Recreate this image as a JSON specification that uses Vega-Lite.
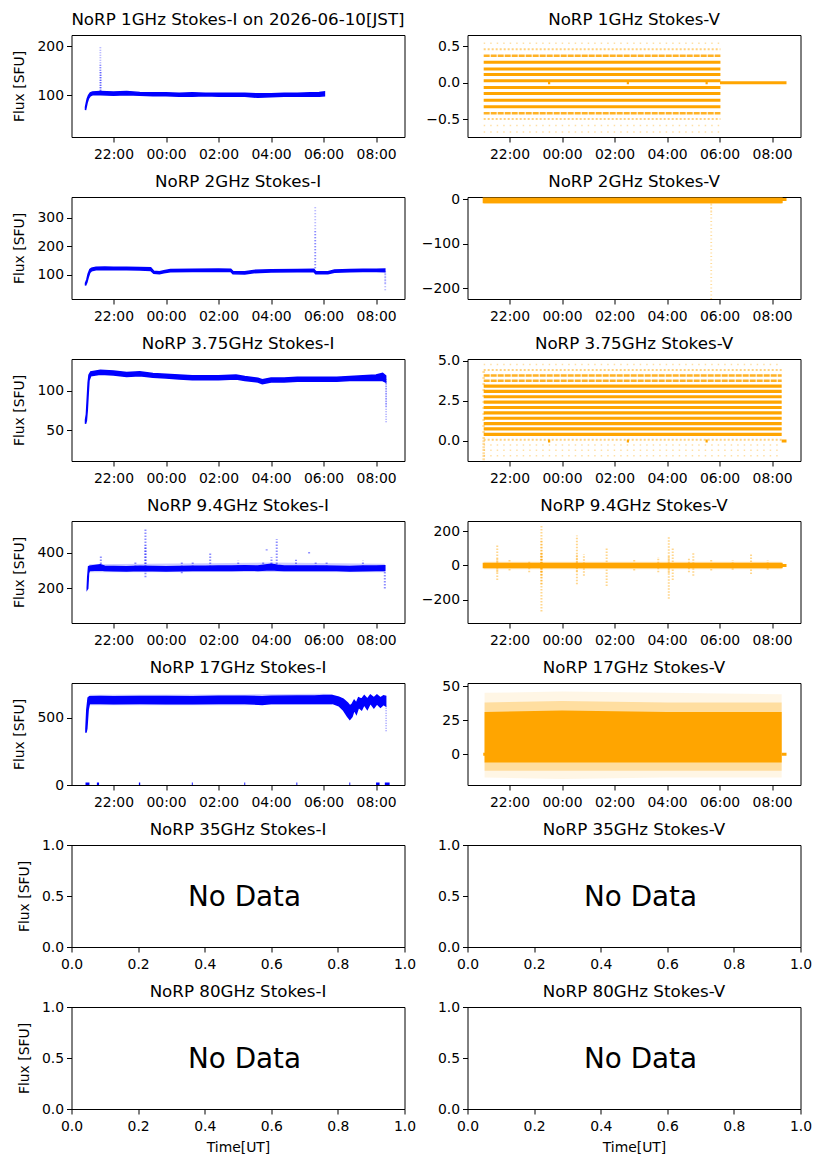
{
  "$schema": "https://vega.github.io/schema/vega-lite/v6.json",
  "background": "white",
  "autosize": {"type": "pad"},
  "padding": {"left": 11.5, "top": 11, "right": 5, "bottom": 5},
  "data": {
    "format": {"parse": {"t": "date", "t2": "date"}},
    "values": [
      {"p":"1I","k":"b","t":"2026-06-09T20:56Z","f":70,"f2":76},
      {"p":"1I","k":"b","t":"2026-06-09T20:58Z","f":78,"f2":85},
      {"p":"1I","k":"b","t":"2026-06-09T21:00Z","f":86,"f2":93},
      {"p":"1I","k":"b","t":"2026-06-09T21:03Z","f":94,"f2":100},
      {"p":"1I","k":"b","t":"2026-06-09T21:07Z","f":99,"f2":105},
      {"p":"1I","k":"b","t":"2026-06-09T21:12Z","f":101,"f2":107},
      {"p":"1I","k":"b","t":"2026-06-09T21:30Z","f":101,"f2":108},
      {"p":"1I","k":"b","t":"2026-06-09T22:00Z","f":100,"f2":107},
      {"p":"1I","k":"b","t":"2026-06-09T22:30Z","f":101,"f2":108},
      {"p":"1I","k":"b","t":"2026-06-09T23:00Z","f":100,"f2":106},
      {"p":"1I","k":"b","t":"2026-06-09T23:30Z","f":99,"f2":105},
      {"p":"1I","k":"b","t":"2026-06-10T00:00Z","f":99,"f2":105},
      {"p":"1I","k":"b","t":"2026-06-10T00:30Z","f":98,"f2":104},
      {"p":"1I","k":"b","t":"2026-06-10T01:00Z","f":98,"f2":105},
      {"p":"1I","k":"b","t":"2026-06-10T01:30Z","f":99,"f2":104},
      {"p":"1I","k":"b","t":"2026-06-10T02:00Z","f":98,"f2":104},
      {"p":"1I","k":"b","t":"2026-06-10T02:30Z","f":98,"f2":104},
      {"p":"1I","k":"b","t":"2026-06-10T03:00Z","f":98,"f2":104},
      {"p":"1I","k":"b","t":"2026-06-10T03:30Z","f":96,"f2":103},
      {"p":"1I","k":"b","t":"2026-06-10T04:00Z","f":97,"f2":103},
      {"p":"1I","k":"b","t":"2026-06-10T04:30Z","f":98,"f2":104},
      {"p":"1I","k":"b","t":"2026-06-10T05:00Z","f":98,"f2":104},
      {"p":"1I","k":"b","t":"2026-06-10T05:30Z","f":98,"f2":105},
      {"p":"1I","k":"b","t":"2026-06-10T05:50Z","f":98,"f2":106},
      {"p":"1I","k":"b","t":"2026-06-10T06:02Z","f":99,"f2":107},
      {"p":"1I","k":"s","t":"2026-06-09T21:30Z","f":104,"f2":201},
      {"p":"1I","k":"s","t":"2026-06-09T21:30Z","f":104,"f2":165},
      {"p":"1I","k":"s","t":"2026-06-09T21:31Z","f":104,"f2":150},

      {"p":"1V","k":"L","t":"2026-06-09T21:01Z","t2":"2026-06-10T06:02Z","f":0.277},
      {"p":"1V","k":"L","t":"2026-06-09T21:01Z","t2":"2026-06-10T06:02Z","f":0.188},
      {"p":"1V","k":"L","t":"2026-06-09T21:01Z","t2":"2026-06-10T06:02Z","f":0.112},
      {"p":"1V","k":"L","t":"2026-06-09T21:01Z","t2":"2026-06-10T06:02Z","f":0.027},
      {"p":"1V","k":"L","t":"2026-06-09T21:01Z","t2":"2026-06-10T06:02Z","f":-0.067},
      {"p":"1V","k":"L","t":"2026-06-09T21:01Z","t2":"2026-06-10T06:02Z","f":-0.148},
      {"p":"1V","k":"L","t":"2026-06-09T21:01Z","t2":"2026-06-10T06:02Z","f":-0.238},
      {"p":"1V","k":"L","t":"2026-06-09T21:01Z","t2":"2026-06-10T06:02Z","f":-0.328},
      {"p":"1V","k":"M","t":"2026-06-09T21:01Z","t2":"2026-06-10T06:02Z","f":0.367},
      {"p":"1V","k":"M","t":"2026-06-09T21:01Z","t2":"2026-06-10T06:02Z","f":-0.417},
      {"p":"1V","k":"S","t":"2026-06-09T21:01Z","t2":"2026-06-10T06:02Z","f":0.457},
      {"p":"1V","k":"S","t":"2026-06-09T21:01Z","t2":"2026-06-10T06:02Z","f":-0.494},
      {"p":"1V","k":"F","t":"2026-06-09T21:01Z","t2":"2026-06-10T06:02Z","f":0.538},
      {"p":"1V","k":"F","t":"2026-06-09T21:01Z","t2":"2026-06-10T06:02Z","f":-0.584},
      {"p":"1V","k":"F","t":"2026-06-09T21:01Z","t2":"2026-06-10T06:02Z","f":-0.673},
      {"p":"1V","k":"z","t":"2026-06-10T06:01Z","t2":"2026-06-10T08:33Z","f":0},
      {"p":"1V","k":"z","t":"2026-06-09T23:28Z","t2":"2026-06-09T23:33Z","f":0},
      {"p":"1V","k":"z","t":"2026-06-10T02:28Z","t2":"2026-06-10T02:33Z","f":0},
      {"p":"1V","k":"z","t":"2026-06-10T05:28Z","t2":"2026-06-10T05:33Z","f":0},

      {"p":"2I","k":"b","t":"2026-06-09T20:56Z","f":62,"f2":70},
      {"p":"2I","k":"b","t":"2026-06-09T20:59Z","f":72,"f2":82},
      {"p":"2I","k":"b","t":"2026-06-09T21:02Z","f":90,"f2":102},
      {"p":"2I","k":"b","t":"2026-06-09T21:06Z","f":108,"f2":118},
      {"p":"2I","k":"b","t":"2026-06-09T21:10Z","f":114,"f2":123},
      {"p":"2I","k":"b","t":"2026-06-09T21:20Z","f":117,"f2":126},
      {"p":"2I","k":"b","t":"2026-06-09T21:40Z","f":118,"f2":127},
      {"p":"2I","k":"b","t":"2026-06-09T22:00Z","f":117,"f2":126},
      {"p":"2I","k":"b","t":"2026-06-09T22:30Z","f":117,"f2":126},
      {"p":"2I","k":"b","t":"2026-06-09T23:00Z","f":116,"f2":125},
      {"p":"2I","k":"b","t":"2026-06-09T23:25Z","f":115,"f2":124},
      {"p":"2I","k":"b","t":"2026-06-09T23:32Z","f":105,"f2":112},
      {"p":"2I","k":"b","t":"2026-06-09T23:45Z","f":103,"f2":110},
      {"p":"2I","k":"b","t":"2026-06-09T23:55Z","f":107,"f2":114},
      {"p":"2I","k":"b","t":"2026-06-10T00:10Z","f":110,"f2":118},
      {"p":"2I","k":"b","t":"2026-06-10T01:00Z","f":111,"f2":119},
      {"p":"2I","k":"b","t":"2026-06-10T02:00Z","f":112,"f2":120},
      {"p":"2I","k":"b","t":"2026-06-10T02:28Z","f":111,"f2":119},
      {"p":"2I","k":"b","t":"2026-06-10T02:33Z","f":103,"f2":111},
      {"p":"2I","k":"b","t":"2026-06-10T03:00Z","f":102,"f2":110},
      {"p":"2I","k":"b","t":"2026-06-10T03:20Z","f":107,"f2":115},
      {"p":"2I","k":"b","t":"2026-06-10T04:00Z","f":109,"f2":117},
      {"p":"2I","k":"b","t":"2026-06-10T05:00Z","f":110,"f2":118},
      {"p":"2I","k":"b","t":"2026-06-10T05:38Z","f":110,"f2":119},
      {"p":"2I","k":"b","t":"2026-06-10T05:42Z","f":103,"f2":110},
      {"p":"2I","k":"b","t":"2026-06-10T06:10Z","f":103,"f2":110},
      {"p":"2I","k":"b","t":"2026-06-10T06:25Z","f":108,"f2":116},
      {"p":"2I","k":"b","t":"2026-06-10T07:00Z","f":110,"f2":118},
      {"p":"2I","k":"b","t":"2026-06-10T07:30Z","f":111,"f2":119},
      {"p":"2I","k":"b","t":"2026-06-10T08:00Z","f":111,"f2":119},
      {"p":"2I","k":"b","t":"2026-06-10T08:20Z","f":110,"f2":120},
      {"p":"2I","k":"s","t":"2026-06-10T05:41Z","f":112,"f2":340},
      {"p":"2I","k":"s","t":"2026-06-10T05:41Z","f":112,"f2":260},
      {"p":"2I","k":"s","t":"2026-06-10T08:21Z","f":45,"f2":118},
      {"p":"2I","k":"s","t":"2026-06-10T08:21Z","f":70,"f2":112},

      {"p":"2V","k":"b","t":"2026-06-09T21:01Z","f":-7,"f2":1},
      {"p":"2V","k":"b","t":"2026-06-10T00:00Z","f":-7,"f2":1},
      {"p":"2V","k":"b","t":"2026-06-10T04:00Z","f":-7,"f2":1},
      {"p":"2V","k":"b","t":"2026-06-10T08:22Z","f":-7,"f2":1},
      {"p":"2V","k":"r","t":"2026-06-09T21:01Z","f":-11,"f2":-7},
      {"p":"2V","k":"r","t":"2026-06-10T08:22Z","f":-11,"f2":-7},
      {"p":"2V","k":"z","t":"2026-06-10T08:22Z","t2":"2026-06-10T08:33Z","f":-1},
      {"p":"2V","k":"s","t":"2026-06-10T05:41Z","f":-224,"f2":-7},
      {"p":"2V","k":"s","t":"2026-06-10T05:41Z","f":-30,"f2":-7},

      {"p":"3I","k":"b","t":"2026-06-09T20:56Z","f":58,"f2":63},
      {"p":"3I","k":"b","t":"2026-06-09T20:58Z","f":62,"f2":70},
      {"p":"3I","k":"b","t":"2026-06-09T21:00Z","f":75,"f2":90},
      {"p":"3I","k":"b","t":"2026-06-09T21:02Z","f":95,"f2":110},
      {"p":"3I","k":"b","t":"2026-06-09T21:04Z","f":113,"f2":120},
      {"p":"3I","k":"b","t":"2026-06-09T21:08Z","f":119,"f2":124},
      {"p":"3I","k":"b","t":"2026-06-09T21:30Z","f":121,"f2":126},
      {"p":"3I","k":"b","t":"2026-06-09T22:00Z","f":120,"f2":125},
      {"p":"3I","k":"b","t":"2026-06-09T22:30Z","f":118,"f2":123},
      {"p":"3I","k":"b","t":"2026-06-09T23:00Z","f":119,"f2":124},
      {"p":"3I","k":"b","t":"2026-06-09T23:30Z","f":117,"f2":122},
      {"p":"3I","k":"b","t":"2026-06-10T00:00Z","f":116,"f2":121},
      {"p":"3I","k":"b","t":"2026-06-10T00:30Z","f":115,"f2":120},
      {"p":"3I","k":"b","t":"2026-06-10T01:00Z","f":114,"f2":119},
      {"p":"3I","k":"b","t":"2026-06-10T01:30Z","f":114,"f2":119},
      {"p":"3I","k":"b","t":"2026-06-10T02:00Z","f":114,"f2":119},
      {"p":"3I","k":"b","t":"2026-06-10T02:40Z","f":115,"f2":120},
      {"p":"3I","k":"b","t":"2026-06-10T03:00Z","f":113,"f2":118},
      {"p":"3I","k":"b","t":"2026-06-10T03:30Z","f":111,"f2":116},
      {"p":"3I","k":"b","t":"2026-06-10T03:40Z","f":109,"f2":114},
      {"p":"3I","k":"b","t":"2026-06-10T04:00Z","f":111,"f2":116},
      {"p":"3I","k":"b","t":"2026-06-10T04:30Z","f":111,"f2":116},
      {"p":"3I","k":"b","t":"2026-06-10T05:00Z","f":112,"f2":117},
      {"p":"3I","k":"b","t":"2026-06-10T05:30Z","f":112,"f2":117},
      {"p":"3I","k":"b","t":"2026-06-10T06:00Z","f":112,"f2":117},
      {"p":"3I","k":"b","t":"2026-06-10T06:30Z","f":112,"f2":117},
      {"p":"3I","k":"b","t":"2026-06-10T07:00Z","f":113,"f2":118},
      {"p":"3I","k":"b","t":"2026-06-10T07:30Z","f":113,"f2":119},
      {"p":"3I","k":"b","t":"2026-06-10T08:00Z","f":113,"f2":120},
      {"p":"3I","k":"b","t":"2026-06-10T08:15Z","f":113,"f2":122},
      {"p":"3I","k":"b","t":"2026-06-10T08:22Z","f":111,"f2":119},
      {"p":"3I","k":"s","t":"2026-06-10T08:23Z","f":60,"f2":115},
      {"p":"3I","k":"s","t":"2026-06-10T08:23Z","f":80,"f2":112},

      {"p":"3V","k":"L","t":"2026-06-09T21:01Z","t2":"2026-06-10T08:22Z","f":0.41},
      {"p":"3V","k":"L","t":"2026-06-09T21:01Z","t2":"2026-06-10T08:22Z","f":0.75},
      {"p":"3V","k":"L","t":"2026-06-09T21:01Z","t2":"2026-06-10T08:22Z","f":1.08},
      {"p":"3V","k":"L","t":"2026-06-09T21:01Z","t2":"2026-06-10T08:22Z","f":1.41},
      {"p":"3V","k":"L","t":"2026-06-09T21:01Z","t2":"2026-06-10T08:22Z","f":1.75},
      {"p":"3V","k":"L","t":"2026-06-09T21:01Z","t2":"2026-06-10T08:22Z","f":2.08},
      {"p":"3V","k":"L","t":"2026-06-09T21:01Z","t2":"2026-06-10T08:22Z","f":2.41},
      {"p":"3V","k":"L","t":"2026-06-09T21:01Z","t2":"2026-06-10T08:22Z","f":2.75},
      {"p":"3V","k":"L","t":"2026-06-09T21:01Z","t2":"2026-06-10T08:22Z","f":3.08},
      {"p":"3V","k":"L","t":"2026-06-09T21:01Z","t2":"2026-06-10T08:22Z","f":3.41},
      {"p":"3V","k":"M","t":"2026-06-09T21:01Z","t2":"2026-06-10T08:22Z","f":3.75},
      {"p":"3V","k":"M","t":"2026-06-09T21:01Z","t2":"2026-06-10T08:22Z","f":4.08},
      {"p":"3V","k":"S","t":"2026-06-09T21:01Z","t2":"2026-06-10T08:22Z","f":0.08},
      {"p":"3V","k":"S","t":"2026-06-09T21:01Z","t2":"2026-06-10T08:22Z","f":4.41},
      {"p":"3V","k":"F","t":"2026-06-09T21:01Z","t2":"2026-06-10T08:22Z","f":4.75},
      {"p":"3V","k":"F","t":"2026-06-09T21:01Z","t2":"2026-06-10T08:22Z","f":-0.25},
      {"p":"3V","k":"F","t":"2026-06-09T21:01Z","t2":"2026-06-10T08:22Z","f":-0.58},
      {"p":"3V","k":"F","t":"2026-06-09T21:01Z","t2":"2026-06-10T08:22Z","f":-0.92},
      {"p":"3V","k":"z","t":"2026-06-09T23:28Z","t2":"2026-06-09T23:33Z","f":0},
      {"p":"3V","k":"z","t":"2026-06-10T02:28Z","t2":"2026-06-10T02:33Z","f":0},
      {"p":"3V","k":"z","t":"2026-06-10T05:28Z","t2":"2026-06-10T05:33Z","f":0},
      {"p":"3V","k":"z","t":"2026-06-10T08:22Z","t2":"2026-06-10T08:33Z","f":0},
      {"p":"3V","k":"s","t":"2026-06-09T21:01Z","f":-1.2,"f2":0.1},
      {"p":"3V","k":"s","t":"2026-06-09T21:01Z","f":-1.0,"f2":4.5},

      {"p":"4I","k":"b","t":"2026-06-09T21:00Z","f":196,"f2":204},
      {"p":"4I","k":"b","t":"2026-06-09T21:01Z","f":200,"f2":260},
      {"p":"4I","k":"b","t":"2026-06-09T21:03Z","f":285,"f2":322},
      {"p":"4I","k":"b","t":"2026-06-09T21:05Z","f":300,"f2":324},
      {"p":"4I","k":"b","t":"2026-06-09T21:30Z","f":303,"f2":332},
      {"p":"4I","k":"b","t":"2026-06-09T21:40Z","f":300,"f2":324},
      {"p":"4I","k":"b","t":"2026-06-09T22:00Z","f":299,"f2":323},
      {"p":"4I","k":"b","t":"2026-06-09T22:30Z","f":298,"f2":322},
      {"p":"4I","k":"b","t":"2026-06-09T23:00Z","f":300,"f2":324},
      {"p":"4I","k":"b","t":"2026-06-09T23:30Z","f":299,"f2":323},
      {"p":"4I","k":"b","t":"2026-06-10T00:00Z","f":298,"f2":322},
      {"p":"4I","k":"b","t":"2026-06-10T00:30Z","f":299,"f2":323},
      {"p":"4I","k":"b","t":"2026-06-10T01:00Z","f":300,"f2":324},
      {"p":"4I","k":"b","t":"2026-06-10T01:30Z","f":300,"f2":324},
      {"p":"4I","k":"b","t":"2026-06-10T02:00Z","f":300,"f2":325},
      {"p":"4I","k":"b","t":"2026-06-10T02:30Z","f":301,"f2":326},
      {"p":"4I","k":"b","t":"2026-06-10T03:00Z","f":302,"f2":327},
      {"p":"4I","k":"b","t":"2026-06-10T03:30Z","f":301,"f2":326},
      {"p":"4I","k":"b","t":"2026-06-10T04:00Z","f":304,"f2":336},
      {"p":"4I","k":"b","t":"2026-06-10T04:15Z","f":302,"f2":330},
      {"p":"4I","k":"b","t":"2026-06-10T04:30Z","f":301,"f2":326},
      {"p":"4I","k":"b","t":"2026-06-10T05:00Z","f":301,"f2":326},
      {"p":"4I","k":"b","t":"2026-06-10T05:30Z","f":300,"f2":325},
      {"p":"4I","k":"b","t":"2026-06-10T06:00Z","f":301,"f2":326},
      {"p":"4I","k":"b","t":"2026-06-10T06:30Z","f":300,"f2":324},
      {"p":"4I","k":"b","t":"2026-06-10T07:00Z","f":298,"f2":323},
      {"p":"4I","k":"b","t":"2026-06-10T07:30Z","f":299,"f2":325},
      {"p":"4I","k":"b","t":"2026-06-10T08:00Z","f":300,"f2":326},
      {"p":"4I","k":"b","t":"2026-06-10T08:20Z","f":300,"f2":327},
      {"p":"4I","k":"r","t":"2026-06-09T21:05Z","f":290,"f2":336},
      {"p":"4I","k":"r","t":"2026-06-10T04:00Z","f":292,"f2":345},
      {"p":"4I","k":"r","t":"2026-06-10T08:20Z","f":290,"f2":338},
      {"p":"4I","k":"s","t":"2026-06-09T21:31Z","f":320,"f2":385},
      {"p":"4I","k":"s","t":"2026-06-09T22:50Z","f":320,"f2":350},
      {"p":"4I","k":"s","t":"2026-06-09T23:13Z","f":320,"f2":530},
      {"p":"4I","k":"s","t":"2026-06-09T23:13Z","f":320,"f2":440},
      {"p":"4I","k":"s","t":"2026-06-09T23:13Z","f":262,"f2":320},
      {"p":"4I","k":"s","t":"2026-06-10T00:36Z","f":320,"f2":345},
      {"p":"4I","k":"s","t":"2026-06-10T00:36Z","f":285,"f2":300},
      {"p":"4I","k":"s","t":"2026-06-10T01:01Z","f":320,"f2":350},
      {"p":"4I","k":"s","t":"2026-06-10T01:41Z","f":320,"f2":400},
      {"p":"4I","k":"s","t":"2026-06-10T02:45Z","f":320,"f2":355},
      {"p":"4I","k":"s","t":"2026-06-10T03:42Z","f":320,"f2":350},
      {"p":"4I","k":"s","t":"2026-06-10T03:50Z","f":412,"f2":420},
      {"p":"4I","k":"s","t":"2026-06-10T04:01Z","f":320,"f2":375},
      {"p":"4I","k":"s","t":"2026-06-10T04:13Z","f":320,"f2":475},
      {"p":"4I","k":"s","t":"2026-06-10T04:57Z","f":320,"f2":360},
      {"p":"4I","k":"s","t":"2026-06-10T05:27Z","f":396,"f2":404},
      {"p":"4I","k":"s","t":"2026-06-10T05:42Z","f":320,"f2":345},
      {"p":"4I","k":"s","t":"2026-06-10T06:07Z","f":320,"f2":350},
      {"p":"4I","k":"s","t":"2026-06-10T07:30Z","f":320,"f2":355},
      {"p":"4I","k":"s","t":"2026-06-10T08:20Z","f":200,"f2":300},

      {"p":"4V","k":"b","t":"2026-06-09T21:01Z","f":-10,"f2":10},
      {"p":"4V","k":"b","t":"2026-06-10T00:00Z","f":-10,"f2":10},
      {"p":"4V","k":"b","t":"2026-06-10T04:00Z","f":-10,"f2":10},
      {"p":"4V","k":"b","t":"2026-06-10T08:22Z","f":-10,"f2":10},
      {"p":"4V","k":"r","t":"2026-06-09T21:01Z","f":-22,"f2":22},
      {"p":"4V","k":"r","t":"2026-06-10T08:22Z","f":-22,"f2":22},
      {"p":"4V","k":"z","t":"2026-06-10T08:22Z","t2":"2026-06-10T08:33Z","f":0},
      {"p":"4V","k":"s","t":"2026-06-09T21:32Z","f":-85,"f2":125},
      {"p":"4V","k":"s","t":"2026-06-09T21:32Z","f":-40,"f2":40},
      {"p":"4V","k":"s","t":"2026-06-09T22:00Z","f":-30,"f2":35},
      {"p":"4V","k":"s","t":"2026-06-09T22:45Z","f":-40,"f2":30},
      {"p":"4V","k":"s","t":"2026-06-09T23:13Z","f":-270,"f2":240},
      {"p":"4V","k":"s","t":"2026-06-09T23:13Z","f":-110,"f2":150},
      {"p":"4V","k":"s","t":"2026-06-09T23:13Z","f":-60,"f2":80},
      {"p":"4V","k":"s","t":"2026-06-09T23:13Z","f":-40,"f2":70},
      {"p":"4V","k":"s","t":"2026-06-10T00:34Z","f":-110,"f2":175},
      {"p":"4V","k":"s","t":"2026-06-10T00:34Z","f":-35,"f2":60},
      {"p":"4V","k":"s","t":"2026-06-10T00:50Z","f":-60,"f2":65},
      {"p":"4V","k":"s","t":"2026-06-10T01:42Z","f":-120,"f2":105},
      {"p":"4V","k":"s","t":"2026-06-10T02:45Z","f":-30,"f2":40},
      {"p":"4V","k":"s","t":"2026-06-10T03:40Z","f":-40,"f2":50},
      {"p":"4V","k":"s","t":"2026-06-10T04:04Z","f":-195,"f2":170},
      {"p":"4V","k":"s","t":"2026-06-10T04:04Z","f":-45,"f2":55},
      {"p":"4V","k":"s","t":"2026-06-10T04:13Z","f":-85,"f2":100},
      {"p":"4V","k":"s","t":"2026-06-10T04:50Z","f":-40,"f2":45},
      {"p":"4V","k":"s","t":"2026-06-10T05:00Z","f":-60,"f2":75},
      {"p":"4V","k":"s","t":"2026-06-10T05:41Z","f":-30,"f2":40},
      {"p":"4V","k":"s","t":"2026-06-10T06:30Z","f":-25,"f2":30},
      {"p":"4V","k":"s","t":"2026-06-10T07:12Z","f":-50,"f2":70},
      {"p":"4V","k":"s","t":"2026-06-10T07:50Z","f":-25,"f2":30},

      {"p":"5I","k":"b","t":"2026-06-09T20:57Z","f":390,"f2":420},
      {"p":"5I","k":"b","t":"2026-06-09T20:59Z","f":420,"f2":560},
      {"p":"5I","k":"b","t":"2026-06-09T21:02Z","f":560,"f2":650},
      {"p":"5I","k":"b","t":"2026-06-09T21:05Z","f":608,"f2":658},
      {"p":"5I","k":"b","t":"2026-06-09T21:30Z","f":608,"f2":660},
      {"p":"5I","k":"b","t":"2026-06-09T22:00Z","f":606,"f2":658},
      {"p":"5I","k":"b","t":"2026-06-09T23:00Z","f":607,"f2":660},
      {"p":"5I","k":"b","t":"2026-06-10T00:00Z","f":606,"f2":659},
      {"p":"5I","k":"b","t":"2026-06-10T01:00Z","f":605,"f2":658},
      {"p":"5I","k":"b","t":"2026-06-10T02:00Z","f":607,"f2":661},
      {"p":"5I","k":"b","t":"2026-06-10T03:00Z","f":608,"f2":661},
      {"p":"5I","k":"b","t":"2026-06-10T03:40Z","f":600,"f2":658},
      {"p":"5I","k":"b","t":"2026-06-10T04:00Z","f":607,"f2":662},
      {"p":"5I","k":"b","t":"2026-06-10T05:00Z","f":609,"f2":664},
      {"p":"5I","k":"b","t":"2026-06-10T05:40Z","f":607,"f2":664},
      {"p":"5I","k":"b","t":"2026-06-10T06:00Z","f":610,"f2":666},
      {"p":"5I","k":"b","t":"2026-06-10T06:20Z","f":608,"f2":666},
      {"p":"5I","k":"b","t":"2026-06-10T06:35Z","f":590,"f2":655},
      {"p":"5I","k":"b","t":"2026-06-10T06:45Z","f":560,"f2":640},
      {"p":"5I","k":"b","t":"2026-06-10T06:55Z","f":510,"f2":610},
      {"p":"5I","k":"b","t":"2026-06-10T07:00Z","f":490,"f2":590},
      {"p":"5I","k":"b","t":"2026-06-10T07:05Z","f":510,"f2":600},
      {"p":"5I","k":"b","t":"2026-06-10T07:10Z","f":560,"f2":630},
      {"p":"5I","k":"b","t":"2026-06-10T07:15Z","f":530,"f2":610},
      {"p":"5I","k":"b","t":"2026-06-10T07:20Z","f":580,"f2":650},
      {"p":"5I","k":"b","t":"2026-06-10T07:27Z","f":560,"f2":640},
      {"p":"5I","k":"b","t":"2026-06-10T07:33Z","f":600,"f2":665},
      {"p":"5I","k":"b","t":"2026-06-10T07:40Z","f":565,"f2":640},
      {"p":"5I","k":"b","t":"2026-06-10T07:47Z","f":610,"f2":670},
      {"p":"5I","k":"b","t":"2026-06-10T07:55Z","f":575,"f2":650},
      {"p":"5I","k":"b","t":"2026-06-10T08:02Z","f":605,"f2":670},
      {"p":"5I","k":"b","t":"2026-06-10T08:10Z","f":580,"f2":650},
      {"p":"5I","k":"b","t":"2026-06-10T08:17Z","f":600,"f2":665},
      {"p":"5I","k":"b","t":"2026-06-10T08:22Z","f":590,"f2":660},
      {"p":"5I","k":"r","t":"2026-06-09T21:05Z","f":595,"f2":672},
      {"p":"5I","k":"r","t":"2026-06-10T03:00Z","f":595,"f2":675},
      {"p":"5I","k":"r","t":"2026-06-10T06:00Z","f":598,"f2":680},
      {"p":"5I","k":"r","t":"2026-06-10T06:20Z","f":598,"f2":678},
      {"p":"5I","k":"s","t":"2026-06-10T08:23Z","f":400,"f2":590},
      {"p":"5I","k":"z","t":"2026-06-09T20:56Z","t2":"2026-06-09T21:05Z","f":0},
      {"p":"5I","k":"z","t":"2026-06-09T21:22Z","t2":"2026-06-09T21:27Z","f":0},
      {"p":"5I","k":"z","t":"2026-06-09T22:58Z","t2":"2026-06-09T23:01Z","f":0},
      {"p":"5I","k":"z","t":"2026-06-10T00:59Z","t2":"2026-06-10T01:01Z","f":0},
      {"p":"5I","k":"z","t":"2026-06-10T02:59Z","t2":"2026-06-10T03:01Z","f":0},
      {"p":"5I","k":"z","t":"2026-06-10T04:58Z","t2":"2026-06-10T05:00Z","f":0},
      {"p":"5I","k":"z","t":"2026-06-10T06:59Z","t2":"2026-06-10T07:01Z","f":0},
      {"p":"5I","k":"z","t":"2026-06-10T08:00Z","t2":"2026-06-10T08:08Z","f":0},
      {"p":"5I","k":"z","t":"2026-06-10T08:20Z","t2":"2026-06-10T08:31Z","f":0},

      {"p":"5V","k":"h","t":"2026-06-09T21:03Z","f":-17,"f2":45},
      {"p":"5V","k":"h","t":"2026-06-10T00:00Z","f":-18,"f2":46},
      {"p":"5V","k":"h","t":"2026-06-10T04:00Z","f":-17,"f2":45},
      {"p":"5V","k":"h","t":"2026-06-10T08:22Z","f":-17,"f2":44},
      {"p":"5V","k":"r","t":"2026-06-09T21:03Z","f":-12,"f2":38},
      {"p":"5V","k":"r","t":"2026-06-10T00:00Z","f":-12,"f2":39},
      {"p":"5V","k":"r","t":"2026-06-10T04:00Z","f":-12,"f2":38},
      {"p":"5V","k":"r","t":"2026-06-10T08:22Z","f":-12,"f2":38},
      {"p":"5V","k":"b","t":"2026-06-09T21:03Z","f":-6,"f2":31},
      {"p":"5V","k":"b","t":"2026-06-10T00:00Z","f":-6,"f2":32},
      {"p":"5V","k":"b","t":"2026-06-10T04:00Z","f":-6,"f2":31},
      {"p":"5V","k":"b","t":"2026-06-10T08:22Z","f":-6,"f2":31},
      {"p":"5V","k":"z","t":"2026-06-09T21:00Z","t2":"2026-06-09T21:04Z","f":0},
      {"p":"5V","k":"z","t":"2026-06-10T08:22Z","t2":"2026-06-10T08:33Z","f":0},

      {"p":"35I","note":"No Data"},
      {"p":"35V","note":"No Data"},
      {"p":"80I","note":"No Data"},
      {"p":"80V","note":"No Data"}
    ]
  },
  "columns": 2,
  "bounds": "flush",
  "spacing": {"row": 60, "column": 63},
  "concat": [
    {
      "title": "NoRP 1GHz Stokes-I on 2026-06-10[JST]",
      "width": 333, "height": 102,
      "encoding": {
        "x": {"field": "t", "type": "temporal", "title": null,
          "scale": {"type": "utc", "nice": false, "domain": [{"year": 2026, "month": 6, "date": 9, "hours": 20, "minutes": 24, "utc": true}, {"year": 2026, "month": 6, "date": 10, "hours": 9, "minutes": 5, "utc": true}]},
          "axis": {"labelExpr": "utcFormat(datum.value, '%H:%M')", "values": [{"year": 2026, "month": 6, "date": 9, "hours": 22, "utc": true}, {"year": 2026, "month": 6, "date": 10, "hours": 0, "utc": true}, {"year": 2026, "month": 6, "date": 10, "hours": 2, "utc": true}, {"year": 2026, "month": 6, "date": 10, "hours": 4, "utc": true}, {"year": 2026, "month": 6, "date": 10, "hours": 6, "utc": true}, {"year": 2026, "month": 6, "date": 10, "hours": 8, "utc": true}]}},
        "y": {"field": "f", "type": "quantitative", "title": "Flux [SFU]", "scale": {"domain": [15, 223], "nice": false, "zero": false}, "axis": {"values": [100, 200]}}
      },
      "layer": [
        {"transform": [{"filter": "datum.p == '1I' && datum.k == 'b'"}], "mark": {"type": "area", "color": "#0000ff", "stroke": "#0000ff", "strokeWidth": 1.5, "clip": true}, "encoding": {"y2": {"field": "f2"}}},
        {"transform": [{"filter": "datum.p == '1I' && datum.k == 's'"}], "mark": {"type": "rule", "color": "#0000ff", "opacity": 0.35, "strokeWidth": 1.8, "strokeDash": [1, 1.5], "clip": true}, "encoding": {"y2": {"field": "f2"}}}
      ]
    },
    {
      "title": "NoRP 1GHz Stokes-V",
      "width": 333, "height": 102,
      "encoding": {
        "x": {"field": "t", "type": "temporal", "title": null,
          "scale": {"type": "utc", "nice": false, "domain": [{"year": 2026, "month": 6, "date": 9, "hours": 20, "minutes": 24, "utc": true}, {"year": 2026, "month": 6, "date": 10, "hours": 9, "minutes": 5, "utc": true}]},
          "axis": {"labelExpr": "utcFormat(datum.value, '%H:%M')", "values": [{"year": 2026, "month": 6, "date": 9, "hours": 22, "utc": true}, {"year": 2026, "month": 6, "date": 10, "hours": 0, "utc": true}, {"year": 2026, "month": 6, "date": 10, "hours": 2, "utc": true}, {"year": 2026, "month": 6, "date": 10, "hours": 4, "utc": true}, {"year": 2026, "month": 6, "date": 10, "hours": 6, "utc": true}, {"year": 2026, "month": 6, "date": 10, "hours": 8, "utc": true}]}},
        "y": {"field": "f", "type": "quantitative", "title": null, "scale": {"domain": [-0.74, 0.65], "nice": false, "zero": false}, "axis": {"values": [-0.5, 0, 0.5], "format": ".1f"}}
      },
      "layer": [
        {"transform": [{"filter": "datum.p == '1V' && datum.k == 'F'"}], "mark": {"type": "rule", "color": "#ffa500", "opacity": 0.35, "strokeWidth": 1.5, "strokeDash": [1.5, 5], "clip": true}, "encoding": {"x2": {"field": "t2"}}},
        {"transform": [{"filter": "datum.p == '1V' && datum.k == 'S'"}], "mark": {"type": "rule", "color": "#ffa500", "opacity": 0.5, "strokeWidth": 2, "strokeDash": [2, 2], "clip": true}, "encoding": {"x2": {"field": "t2"}}},
        {"transform": [{"filter": "datum.p == '1V' && datum.k == 'M'"}], "mark": {"type": "rule", "color": "#ffa500", "opacity": 0.85, "strokeWidth": 2.5, "strokeDash": [6, 1], "clip": true}, "encoding": {"x2": {"field": "t2"}}},
        {"transform": [{"filter": "datum.p == '1V' && datum.k == 'L'"}], "mark": {"type": "rule", "color": "#ffa500", "strokeWidth": 3, "clip": true}, "encoding": {"x2": {"field": "t2"}}},
        {"transform": [{"filter": "datum.p == '1V' && datum.k == 'z'"}], "mark": {"type": "rule", "color": "#ffa500", "strokeWidth": 3, "clip": true}, "encoding": {"x2": {"field": "t2"}}}
      ]
    },
    {
      "title": "NoRP 2GHz Stokes-I",
      "width": 333, "height": 102,
      "encoding": {
        "x": {"field": "t", "type": "temporal", "title": null,
          "scale": {"type": "utc", "nice": false, "domain": [{"year": 2026, "month": 6, "date": 9, "hours": 20, "minutes": 24, "utc": true}, {"year": 2026, "month": 6, "date": 10, "hours": 9, "minutes": 5, "utc": true}]},
          "axis": {"labelExpr": "utcFormat(datum.value, '%H:%M')", "values": [{"year": 2026, "month": 6, "date": 9, "hours": 22, "utc": true}, {"year": 2026, "month": 6, "date": 10, "hours": 0, "utc": true}, {"year": 2026, "month": 6, "date": 10, "hours": 2, "utc": true}, {"year": 2026, "month": 6, "date": 10, "hours": 4, "utc": true}, {"year": 2026, "month": 6, "date": 10, "hours": 6, "utc": true}, {"year": 2026, "month": 6, "date": 10, "hours": 8, "utc": true}]}},
        "y": {"field": "f", "type": "quantitative", "title": "Flux [SFU]", "scale": {"domain": [14, 374], "nice": false, "zero": false}, "axis": {"values": [100, 200, 300]}}
      },
      "layer": [
        {"transform": [{"filter": "datum.p == '2I' && datum.k == 'b'"}], "mark": {"type": "area", "color": "#0000ff", "stroke": "#0000ff", "strokeWidth": 1.5, "clip": true}, "encoding": {"y2": {"field": "f2"}}},
        {"transform": [{"filter": "datum.p == '2I' && datum.k == 's'"}], "mark": {"type": "rule", "color": "#0000ff", "opacity": 0.35, "strokeWidth": 1.8, "strokeDash": [1, 2], "clip": true}, "encoding": {"y2": {"field": "f2"}}}
      ]
    },
    {
      "title": {"text": "NoRP 2GHz Stokes-V", "dy": 5},
      "width": 333, "height": 102,
      "encoding": {
        "x": {"field": "t", "type": "temporal", "title": null,
          "scale": {"type": "utc", "nice": false, "domain": [{"year": 2026, "month": 6, "date": 9, "hours": 20, "minutes": 24, "utc": true}, {"year": 2026, "month": 6, "date": 10, "hours": 9, "minutes": 5, "utc": true}]},
          "axis": {"labelExpr": "utcFormat(datum.value, '%H:%M')", "values": [{"year": 2026, "month": 6, "date": 9, "hours": 22, "utc": true}, {"year": 2026, "month": 6, "date": 10, "hours": 0, "utc": true}, {"year": 2026, "month": 6, "date": 10, "hours": 2, "utc": true}, {"year": 2026, "month": 6, "date": 10, "hours": 4, "utc": true}, {"year": 2026, "month": 6, "date": 10, "hours": 6, "utc": true}, {"year": 2026, "month": 6, "date": 10, "hours": 8, "utc": true}]}},
        "y": {"field": "f", "type": "quantitative", "title": null, "scale": {"domain": [-224, 4.5], "nice": false, "zero": false}, "axis": {"values": [-200, -100, 0]}}
      },
      "layer": [
        {"transform": [{"filter": "datum.p == '2V' && datum.k == 'r'"}], "mark": {"type": "area", "color": "#ffa500", "opacity": 0.25, "clip": true}, "encoding": {"y2": {"field": "f2"}}},
        {"transform": [{"filter": "datum.p == '2V' && datum.k == 'b'"}], "mark": {"type": "area", "color": "#ffa500", "stroke": "#ffa500", "strokeWidth": 2, "clip": true}, "encoding": {"y2": {"field": "f2"}}},
        {"transform": [{"filter": "datum.p == '2V' && datum.k == 'z'"}], "mark": {"type": "rule", "color": "#ffa500", "strokeWidth": 3, "clip": true}, "encoding": {"x2": {"field": "t2"}}},
        {"transform": [{"filter": "datum.p == '2V' && datum.k == 's'"}], "mark": {"type": "rule", "color": "#ffa500", "opacity": 0.4, "strokeWidth": 1.8, "strokeDash": [1, 2.5], "clip": true}, "encoding": {"y2": {"field": "f2"}}}
      ]
    },
    {
      "title": "NoRP 3.75GHz Stokes-I",
      "width": 333, "height": 102,
      "encoding": {
        "x": {"field": "t", "type": "temporal", "title": null,
          "scale": {"type": "utc", "nice": false, "domain": [{"year": 2026, "month": 6, "date": 9, "hours": 20, "minutes": 24, "utc": true}, {"year": 2026, "month": 6, "date": 10, "hours": 9, "minutes": 5, "utc": true}]},
          "axis": {"labelExpr": "utcFormat(datum.value, '%H:%M')", "values": [{"year": 2026, "month": 6, "date": 9, "hours": 22, "utc": true}, {"year": 2026, "month": 6, "date": 10, "hours": 0, "utc": true}, {"year": 2026, "month": 6, "date": 10, "hours": 2, "utc": true}, {"year": 2026, "month": 6, "date": 10, "hours": 4, "utc": true}, {"year": 2026, "month": 6, "date": 10, "hours": 6, "utc": true}, {"year": 2026, "month": 6, "date": 10, "hours": 8, "utc": true}]}},
        "y": {"field": "f", "type": "quantitative", "title": "Flux [SFU]", "scale": {"domain": [10.6, 140.3], "nice": false, "zero": false}, "axis": {"values": [50, 100]}}
      },
      "layer": [
        {"transform": [{"filter": "datum.p == '3I' && datum.k == 'b'"}], "mark": {"type": "area", "color": "#0000ff", "stroke": "#0000ff", "strokeWidth": 1.5, "clip": true}, "encoding": {"y2": {"field": "f2"}}},
        {"transform": [{"filter": "datum.p == '3I' && datum.k == 's'"}], "mark": {"type": "rule", "color": "#0000ff", "opacity": 0.35, "strokeWidth": 1.8, "strokeDash": [1, 1.5], "clip": true}, "encoding": {"y2": {"field": "f2"}}}
      ]
    },
    {
      "title": {"text": "NoRP 3.75GHz Stokes-V", "dy": 5.3},
      "width": 333, "height": 102,
      "encoding": {
        "x": {"field": "t", "type": "temporal", "title": null,
          "scale": {"type": "utc", "nice": false, "domain": [{"year": 2026, "month": 6, "date": 9, "hours": 20, "minutes": 24, "utc": true}, {"year": 2026, "month": 6, "date": 10, "hours": 9, "minutes": 5, "utc": true}]},
          "axis": {"labelExpr": "utcFormat(datum.value, '%H:%M')", "values": [{"year": 2026, "month": 6, "date": 9, "hours": 22, "utc": true}, {"year": 2026, "month": 6, "date": 10, "hours": 0, "utc": true}, {"year": 2026, "month": 6, "date": 10, "hours": 2, "utc": true}, {"year": 2026, "month": 6, "date": 10, "hours": 4, "utc": true}, {"year": 2026, "month": 6, "date": 10, "hours": 6, "utc": true}, {"year": 2026, "month": 6, "date": 10, "hours": 8, "utc": true}]}},
        "y": {"field": "f", "type": "quantitative", "title": null, "scale": {"domain": [-1.25, 5.1], "nice": false, "zero": false}, "axis": {"values": [0, 2.5, 5], "format": ".1f"}}
      },
      "layer": [
        {"transform": [{"filter": "datum.p == '3V' && datum.k == 'F'"}], "mark": {"type": "rule", "color": "#ffa500", "opacity": 0.35, "strokeWidth": 1.5, "strokeDash": [1.5, 5], "clip": true}, "encoding": {"x2": {"field": "t2"}}},
        {"transform": [{"filter": "datum.p == '3V' && datum.k == 'S'"}], "mark": {"type": "rule", "color": "#ffa500", "opacity": 0.5, "strokeWidth": 2, "strokeDash": [2, 2], "clip": true}, "encoding": {"x2": {"field": "t2"}}},
        {"transform": [{"filter": "datum.p == '3V' && datum.k == 'M'"}], "mark": {"type": "rule", "color": "#ffa500", "opacity": 0.85, "strokeWidth": 2.5, "strokeDash": [6, 1], "clip": true}, "encoding": {"x2": {"field": "t2"}}},
        {"transform": [{"filter": "datum.p == '3V' && datum.k == 'L'"}], "mark": {"type": "rule", "color": "#ffa500", "strokeWidth": 3.2, "clip": true}, "encoding": {"x2": {"field": "t2"}}},
        {"transform": [{"filter": "datum.p == '3V' && datum.k == 'z'"}], "mark": {"type": "rule", "color": "#ffa500", "strokeWidth": 3, "clip": true}, "encoding": {"x2": {"field": "t2"}}},
        {"transform": [{"filter": "datum.p == '3V' && datum.k == 's'"}], "mark": {"type": "rule", "color": "#ffa500", "opacity": 0.4, "strokeWidth": 2.5, "strokeDash": [2, 4], "clip": true}, "encoding": {"y2": {"field": "f2"}}}
      ]
    },
    {
      "title": "NoRP 9.4GHz Stokes-I",
      "width": 333, "height": 102,
      "encoding": {
        "x": {"field": "t", "type": "temporal", "title": null,
          "scale": {"type": "utc", "nice": false, "domain": [{"year": 2026, "month": 6, "date": 9, "hours": 20, "minutes": 24, "utc": true}, {"year": 2026, "month": 6, "date": 10, "hours": 9, "minutes": 5, "utc": true}]},
          "axis": {"labelExpr": "utcFormat(datum.value, '%H:%M')", "values": [{"year": 2026, "month": 6, "date": 9, "hours": 22, "utc": true}, {"year": 2026, "month": 6, "date": 10, "hours": 0, "utc": true}, {"year": 2026, "month": 6, "date": 10, "hours": 2, "utc": true}, {"year": 2026, "month": 6, "date": 10, "hours": 4, "utc": true}, {"year": 2026, "month": 6, "date": 10, "hours": 6, "utc": true}, {"year": 2026, "month": 6, "date": 10, "hours": 8, "utc": true}]}},
        "y": {"field": "f", "type": "quantitative", "title": "Flux [SFU]", "scale": {"domain": [6, 578], "nice": false, "zero": false}, "axis": {"values": [200, 400]}}
      },
      "layer": [
        {"transform": [{"filter": "datum.p == '4I' && datum.k == 'r'"}], "mark": {"type": "area", "color": "#0000ff", "opacity": 0.2, "clip": true}, "encoding": {"y2": {"field": "f2"}}},
        {"transform": [{"filter": "datum.p == '4I' && datum.k == 'b'"}], "mark": {"type": "area", "color": "#0000ff", "stroke": "#0000ff", "strokeWidth": 1.5, "clip": true}, "encoding": {"y2": {"field": "f2"}}},
        {"transform": [{"filter": "datum.p == '4I' && datum.k == 's'"}], "mark": {"type": "rule", "color": "#0000ff", "opacity": 0.45, "strokeWidth": 2, "strokeDash": [1.5, 1.5], "clip": true}, "encoding": {"y2": {"field": "f2"}}}
      ]
    },
    {
      "title": "NoRP 9.4GHz Stokes-V",
      "width": 333, "height": 102,
      "encoding": {
        "x": {"field": "t", "type": "temporal", "title": null,
          "scale": {"type": "utc", "nice": false, "domain": [{"year": 2026, "month": 6, "date": 9, "hours": 20, "minutes": 24, "utc": true}, {"year": 2026, "month": 6, "date": 10, "hours": 9, "minutes": 5, "utc": true}]},
          "axis": {"labelExpr": "utcFormat(datum.value, '%H:%M')", "values": [{"year": 2026, "month": 6, "date": 9, "hours": 22, "utc": true}, {"year": 2026, "month": 6, "date": 10, "hours": 0, "utc": true}, {"year": 2026, "month": 6, "date": 10, "hours": 2, "utc": true}, {"year": 2026, "month": 6, "date": 10, "hours": 4, "utc": true}, {"year": 2026, "month": 6, "date": 10, "hours": 6, "utc": true}, {"year": 2026, "month": 6, "date": 10, "hours": 8, "utc": true}]}},
        "y": {"field": "f", "type": "quantitative", "title": null, "scale": {"domain": [-337, 260], "nice": false, "zero": false}, "axis": {"values": [-200, 0, 200]}}
      },
      "layer": [
        {"transform": [{"filter": "datum.p == '4V' && datum.k == 'r'"}], "mark": {"type": "area", "color": "#ffa500", "opacity": 0.25, "clip": true}, "encoding": {"y2": {"field": "f2"}}},
        {"transform": [{"filter": "datum.p == '4V' && datum.k == 's'"}], "mark": {"type": "rule", "color": "#ffa500", "opacity": 0.45, "strokeWidth": 2, "strokeDash": [1.5, 1.5], "clip": true}, "encoding": {"y2": {"field": "f2"}}},
        {"transform": [{"filter": "datum.p == '4V' && datum.k == 'b'"}], "mark": {"type": "area", "color": "#ffa500", "stroke": "#ffa500", "strokeWidth": 2, "clip": true}, "encoding": {"y2": {"field": "f2"}}},
        {"transform": [{"filter": "datum.p == '4V' && datum.k == 'z'"}], "mark": {"type": "rule", "color": "#ffa500", "strokeWidth": 3, "clip": true}, "encoding": {"x2": {"field": "t2"}}}
      ]
    },
    {
      "title": "NoRP 17GHz Stokes-I",
      "width": 333, "height": 102,
      "encoding": {
        "x": {"field": "t", "type": "temporal", "title": null,
          "scale": {"type": "utc", "nice": false, "domain": [{"year": 2026, "month": 6, "date": 9, "hours": 20, "minutes": 24, "utc": true}, {"year": 2026, "month": 6, "date": 10, "hours": 9, "minutes": 5, "utc": true}]},
          "axis": {"labelExpr": "utcFormat(datum.value, '%H:%M')", "values": [{"year": 2026, "month": 6, "date": 9, "hours": 22, "utc": true}, {"year": 2026, "month": 6, "date": 10, "hours": 0, "utc": true}, {"year": 2026, "month": 6, "date": 10, "hours": 2, "utc": true}, {"year": 2026, "month": 6, "date": 10, "hours": 4, "utc": true}, {"year": 2026, "month": 6, "date": 10, "hours": 6, "utc": true}, {"year": 2026, "month": 6, "date": 10, "hours": 8, "utc": true}]}},
        "y": {"field": "f", "type": "quantitative", "title": "Flux [SFU]", "scale": {"domain": [0, 760], "nice": false}, "axis": {"values": [0, 500]}}
      },
      "layer": [
        {"transform": [{"filter": "datum.p == '5I' && datum.k == 'r'"}], "mark": {"type": "area", "color": "#0000ff", "opacity": 0.2, "clip": true}, "encoding": {"y2": {"field": "f2"}}},
        {"transform": [{"filter": "datum.p == '5I' && datum.k == 'b'"}], "mark": {"type": "area", "color": "#0000ff", "stroke": "#0000ff", "strokeWidth": 1.5, "clip": true}, "encoding": {"y2": {"field": "f2"}}},
        {"transform": [{"filter": "datum.p == '5I' && datum.k == 's'"}], "mark": {"type": "rule", "color": "#0000ff", "opacity": 0.35, "strokeWidth": 1.8, "strokeDash": [1, 1.5], "clip": true}, "encoding": {"y2": {"field": "f2"}}},
        {"transform": [{"filter": "datum.p == '5I' && datum.k == 'z'"}], "mark": {"type": "rule", "color": "#0000ff", "strokeWidth": 5, "clip": true}, "encoding": {"x2": {"field": "t2"}}}
      ]
    },
    {
      "title": {"text": "NoRP 17GHz Stokes-V", "dy": 3.9},
      "width": 333, "height": 102,
      "encoding": {
        "x": {"field": "t", "type": "temporal", "title": null,
          "scale": {"type": "utc", "nice": false, "domain": [{"year": 2026, "month": 6, "date": 9, "hours": 20, "minutes": 24, "utc": true}, {"year": 2026, "month": 6, "date": 10, "hours": 9, "minutes": 5, "utc": true}]},
          "axis": {"labelExpr": "utcFormat(datum.value, '%H:%M')", "values": [{"year": 2026, "month": 6, "date": 9, "hours": 22, "utc": true}, {"year": 2026, "month": 6, "date": 10, "hours": 0, "utc": true}, {"year": 2026, "month": 6, "date": 10, "hours": 2, "utc": true}, {"year": 2026, "month": 6, "date": 10, "hours": 4, "utc": true}, {"year": 2026, "month": 6, "date": 10, "hours": 6, "utc": true}, {"year": 2026, "month": 6, "date": 10, "hours": 8, "utc": true}]}},
        "y": {"field": "f", "type": "quantitative", "title": null, "scale": {"domain": [-22.4, 52.2], "nice": false, "zero": false}, "axis": {"values": [0, 25, 50]}}
      },
      "layer": [
        {"transform": [{"filter": "datum.p == '5V' && datum.k == 'h'"}], "mark": {"type": "area", "color": "#ffa500", "opacity": 0.1, "clip": true}, "encoding": {"y2": {"field": "f2"}}},
        {"transform": [{"filter": "datum.p == '5V' && datum.k == 'r'"}], "mark": {"type": "area", "color": "#ffa500", "opacity": 0.3, "clip": true}, "encoding": {"y2": {"field": "f2"}}},
        {"transform": [{"filter": "datum.p == '5V' && datum.k == 'b'"}], "mark": {"type": "area", "color": "#ffa500", "clip": true}, "encoding": {"y2": {"field": "f2"}}},
        {"transform": [{"filter": "datum.p == '5V' && datum.k == 'z'"}], "mark": {"type": "rule", "color": "#ffa500", "strokeWidth": 3, "clip": true}, "encoding": {"x2": {"field": "t2"}}}
      ]
    },
    {
      "title": {"text": "NoRP 35GHz Stokes-I", "dy": 7},
      "width": 333, "height": 102,
      "transform": [{"filter": "datum.p == '35I'"}],
      "mark": {"type": "text", "fontSize": 27.8, "align": "left", "baseline": "alphabetic", "color": "#000000"},
      "encoding": {
        "x": {"datum": 0.35, "type": "quantitative", "scale": {"domain": [0, 1], "nice": false}, "axis": {"title": null, "values": [0, 0.2, 0.4, 0.6, 0.8, 1], "format": ".1f"}},
        "y": {"datum": 0.4, "type": "quantitative", "scale": {"domain": [0, 1], "nice": false}, "axis": {"title": "Flux [SFU]", "values": [0, 0.5, 1], "format": ".1f"}},
        "text": {"field": "note"}
      }
    },
    {
      "title": {"text": "NoRP 35GHz Stokes-V", "dy": 7},
      "width": 333, "height": 102,
      "transform": [{"filter": "datum.p == '35V'"}],
      "mark": {"type": "text", "fontSize": 27.8, "align": "left", "baseline": "alphabetic", "color": "#000000"},
      "encoding": {
        "x": {"datum": 0.35, "type": "quantitative", "scale": {"domain": [0, 1], "nice": false}, "axis": {"title": null, "values": [0, 0.2, 0.4, 0.6, 0.8, 1], "format": ".1f"}},
        "y": {"datum": 0.4, "type": "quantitative", "scale": {"domain": [0, 1], "nice": false}, "axis": {"title": null, "values": [0, 0.5, 1], "format": ".1f"}},
        "text": {"field": "note"}
      }
    },
    {
      "title": {"text": "NoRP 80GHz Stokes-I", "dy": 7},
      "width": 333, "height": 102,
      "transform": [{"filter": "datum.p == '80I'"}],
      "mark": {"type": "text", "fontSize": 27.8, "align": "left", "baseline": "alphabetic", "color": "#000000"},
      "encoding": {
        "x": {"datum": 0.35, "type": "quantitative", "scale": {"domain": [0, 1], "nice": false}, "axis": {"title": "Time[UT]", "values": [0, 0.2, 0.4, 0.6, 0.8, 1], "format": ".1f"}},
        "y": {"datum": 0.4, "type": "quantitative", "scale": {"domain": [0, 1], "nice": false}, "axis": {"title": "Flux [SFU]", "values": [0, 0.5, 1], "format": ".1f"}},
        "text": {"field": "note"}
      }
    },
    {
      "title": {"text": "NoRP 80GHz Stokes-V", "dy": 7},
      "width": 333, "height": 102,
      "transform": [{"filter": "datum.p == '80V'"}],
      "mark": {"type": "text", "fontSize": 27.8, "align": "left", "baseline": "alphabetic", "color": "#000000"},
      "encoding": {
        "x": {"datum": 0.35, "type": "quantitative", "scale": {"domain": [0, 1], "nice": false}, "axis": {"title": "Time[UT]", "values": [0, 0.2, 0.4, 0.6, 0.8, 1], "format": ".1f"}},
        "y": {"datum": 0.4, "type": "quantitative", "scale": {"domain": [0, 1], "nice": false}, "axis": {"title": null, "values": [0, 0.5, 1], "format": ".1f"}},
        "text": {"field": "note"}
      }
    }
  ],
  "config": {
    "font": "DejaVu Sans",
    "view": {"stroke": "#000000", "strokeWidth": 1},
    "axis": {"grid": false, "domain": false, "tickColor": "#000000", "tickSize": 5, "tickWidth": 1, "labelColor": "#000000", "labelFont": "DejaVu Sans", "labelFontSize": 13.9, "labelPadding": 3, "labelFlush": false, "labelOverlap": false, "titleFont": "DejaVu Sans", "titleFontSize": 13.9, "titleFontWeight": "normal", "titleColor": "#000000"},
    "axisY": {"titlePadding": 10},
    "axisX": {"titlePadding": 7, "labelPadding": 5.5},
    "title": {"font": "DejaVu Sans", "fontSize": 16.7, "fontWeight": "normal", "color": "#000000", "offset": 6}
  }
}
